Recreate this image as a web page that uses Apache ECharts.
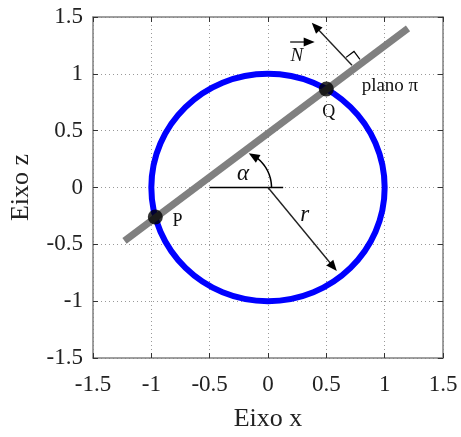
<!DOCTYPE html>
<html>
<head>
<meta charset="utf-8">
<script src="https://cdn.jsdelivr.net/npm/echarts@6/dist/echarts.min.js"></script>
<style>
html,body{margin:0;padding:0;background:#fff;}
#chart{width:461px;height:437px;}
</style>
</head>
<body>
<div id="chart"></div>
<script>
// ---- data ----
var axisMin = -1.5, axisMax = 1.5, axisStep = 0.5;
var circleCenter = [0, 0];
var circleRadius = 1;
var planeLine = [[-1.23, -0.47], [1.20, 1.40]];
var pointP = [-0.966, -0.259];
var pointQ = [0.5, 0.866];
var refLine = [[-0.50, 0], [0.13, 0]];
// arrows: [x1, z1, x2, z2]
var arrowR = [0, 0, 0.59, -0.735];
var arrowNormal = [0.72, 1.075, 0.375, 1.45];
var arrowNLabel = [0.19, 1.28, 0.40, 1.28];
// alpha arc: [centerX, centerZ, radius, startDeg, endDeg]
var alphaArc = [-0.29, 0, 0.32, 0, 67];
// right-angle mark: [baseX, baseZ, side]
var rightAngle = [0.72, 1.075, 0.085];
var labelTexts = ['plano \u03c0', 'Q', 'P', '\u03b1', 'r', 'N'];
var labelX = [1.045, 0.52, -0.776, -0.215, 0.315, 0.247];
var labelZ = [0.89, 0.66, -0.30, 0.115, -0.24, 1.16];
var labelItalic = [false, false, false, true, true, true];
var labelSize = [19, 18, 18, 23, 23, 19];

var FONT = 'Liberation Serif';
var chart = echarts.init(document.getElementById('chart'), null, {renderer: 'canvas'});

function arrowHead(tip, dir, len, half, color) {
  var n = Math.sqrt(dir[0]*dir[0] + dir[1]*dir[1]);
  var ux = dir[0]/n, uy = dir[1]/n;
  var bx = tip[0] - ux*len, by = tip[1] - uy*len;
  return {
    type: 'polygon',
    shape: {points: [tip, [bx - uy*half, by + ux*half], [bx + uy*half, by - ux*half]]},
    style: {fill: color, stroke: null}
  };
}

function renderArrow(params, api) {
  var p1 = api.coord([api.value(0), api.value(1)]);
  var p2 = api.coord([api.value(2), api.value(3)]);
  var dir = [p2[0]-p1[0], p2[1]-p1[1]];
  var n = Math.sqrt(dir[0]*dir[0] + dir[1]*dir[1]);
  var len = 11;
  var end = [p2[0] - dir[0]/n*len*0.8, p2[1] - dir[1]/n*len*0.8];
  return {
    type: 'group',
    children: [
      {type: 'line', shape: {x1: p1[0], y1: p1[1], x2: end[0], y2: end[1]},
       style: {stroke: '#222', lineWidth: 1.4}},
      arrowHead(p2, dir, len, 4.5, '#000')
    ]
  };
}

function axisCommon(extra) {
  return Object.assign({
    type: 'value', min: axisMin, max: axisMax, interval: axisStep,
    axisLine: {show: true, onZero: false, lineStyle: {color: '#808080', width: 1.5}},
    axisTick: {show: true, inside: true, length: 5, lineStyle: {color: '#333', width: 1}},
    splitLine: {show: false}
  }, extra);
}

var option = {
  animation: false,
  backgroundColor: '#fff',
  grid: {left: 93, right: 18, top: 17, bottom: 69, containLabel: false},
  xAxis: [
    axisCommon({
      position: 'bottom',
      name: 'Eixo x', nameLocation: 'middle', nameGap: 48,
      nameTextStyle: {fontFamily: FONT, fontSize: 26, color: '#222'},
      axisLabel: {fontFamily: FONT, fontSize: 23, color: '#222', margin: 15, showMinLabel: true, showMaxLabel: true},
      splitLine: {show: true, lineStyle: {type: [1, 3], color: '#999', width: 1}}
    }),
    axisCommon({position: 'top', axisLabel: {show: false}})
  ],
  yAxis: [
    axisCommon({
      position: 'left',
      name: 'Eixo z', nameLocation: 'middle', nameGap: 59, nameRotate: 90,
      nameTextStyle: {fontFamily: FONT, fontSize: 26, color: '#222'},
      axisLabel: {fontFamily: FONT, fontSize: 23, color: '#222', margin: 10, showMinLabel: true, showMaxLabel: true},
      splitLine: {show: true, lineStyle: {type: [1, 3], color: '#999', width: 1}}
    }),
    axisCommon({position: 'right', axisLabel: {show: false}})
  ],
  series: [
    // unit circle
    {
      type: 'custom', coordinateSystem: 'cartesian2d', z: 2,
      data: [[circleCenter[0], circleCenter[1], circleRadius]],
      encode: {x: 0, y: 1},
      renderItem: function (params, api) {
        var c = api.coord([api.value(0), api.value(1)]);
        var s = api.size([api.value(2), api.value(2)]);
        return {type: 'ellipse', shape: {cx: c[0], cy: c[1], rx: s[0], ry: s[1]},
          style: {fill: null, stroke: '#0000ff', lineWidth: 6}};
      }
    },
    // reference horizontal line
    {
      type: 'line', data: refLine, showSymbol: false, symbol: 'none', z: 3,
      lineStyle: {color: '#000', width: 1.3}
    },
    // plane
    {
      type: 'line', data: planeLine, showSymbol: false, symbol: 'none', z: 4,
      lineStyle: {color: '#808080', width: 7, cap: 'butt'}
    },
    // points P and Q
    {
      type: 'scatter', data: [pointP, pointQ], symbol: 'circle', symbolSize: 15, z: 5,
      itemStyle: {color: '#000'}
    },
    // arrows
    {
      type: 'custom', coordinateSystem: 'cartesian2d', z: 6,
      data: [arrowR, arrowNormal, arrowNLabel],
      encode: {x: [0, 2], y: [1, 3]},
      renderItem: renderArrow
    },
    // alpha arc
    {
      type: 'custom', coordinateSystem: 'cartesian2d', z: 6,
      data: [alphaArc],
      encode: {x: 0, y: 1},
      renderItem: function (params, api) {
        var c = api.coord([api.value(0), api.value(1)]);
        var R = api.size([api.value(2), 0])[0];
        var a0 = api.value(3) * Math.PI / 180, a1 = api.value(4) * Math.PI / 180;
        var pts = [];
        var steps = 40;
        var aEnd = a1 - 0.12;
        for (var i = 0; i <= steps; i++) {
          var a = a0 + (aEnd - a0) * i / steps;
          pts.push([c[0] + R * Math.cos(a), c[1] - R * Math.sin(a)]);
        }
        var tip = [c[0] + R * Math.cos(a1), c[1] - R * Math.sin(a1)];
        var am = a1 - 0.14;
        var dir = [-Math.sin(am), -Math.cos(am)];
        return {type: 'group', children: [
          {type: 'polyline', shape: {points: pts}, style: {stroke: '#000', lineWidth: 1.5, fill: null}},
          arrowHead(tip, dir, 11, 4.5, '#000')
        ]};
      }
    },
    // right-angle mark
    {
      type: 'custom', coordinateSystem: 'cartesian2d', z: 6,
      data: [rightAngle],
      encode: {x: 0, y: 1},
      renderItem: function (params, api) {
        var b = api.coord([api.value(0), api.value(1)]);
        var t = api.coord([planeLine[1][0], planeLine[1][1]]);
        var o = api.coord([planeLine[0][0], planeLine[0][1]]);
        var dx = t[0] - o[0], dy = t[1] - o[1];
        var n = Math.sqrt(dx*dx + dy*dy);
        var ux = dx/n, uy = dy/n;
        var nx = uy, ny = -ux;
        if (ny > 0) { nx = -nx; ny = -ny; }
        var s = api.size([api.value(2), 0])[0];
        var p1 = [b[0] + nx*s, b[1] + ny*s];
        var p2 = [p1[0] + ux*s, p1[1] + uy*s];
        var p3 = [b[0] + ux*s, b[1] + uy*s];
        return {type: 'polyline', shape: {points: [p1, p2, p3]},
          style: {stroke: '#000', lineWidth: 1.2, fill: null}};
      }
    },
    // text labels
    {
      type: 'custom', coordinateSystem: 'cartesian2d', z: 7,
      data: labelTexts.map(function (t, i) { return [labelX[i], labelZ[i], i]; }),
      encode: {x: 0, y: 1},
      renderItem: function (params, api) {
        var p = api.coord([api.value(0), api.value(1)]);
        var i = api.value(2);
        return {type: 'text', x: p[0], y: p[1],
          style: {text: labelTexts[i], fontFamily: FONT, fontSize: labelSize[i],
            fontStyle: labelItalic[i] ? 'italic' : 'normal',
            fill: '#111', align: 'center', verticalAlign: 'middle'}};
      }
    }
  ]
};
chart.setOption(option);
</script>
</body>
</html>
